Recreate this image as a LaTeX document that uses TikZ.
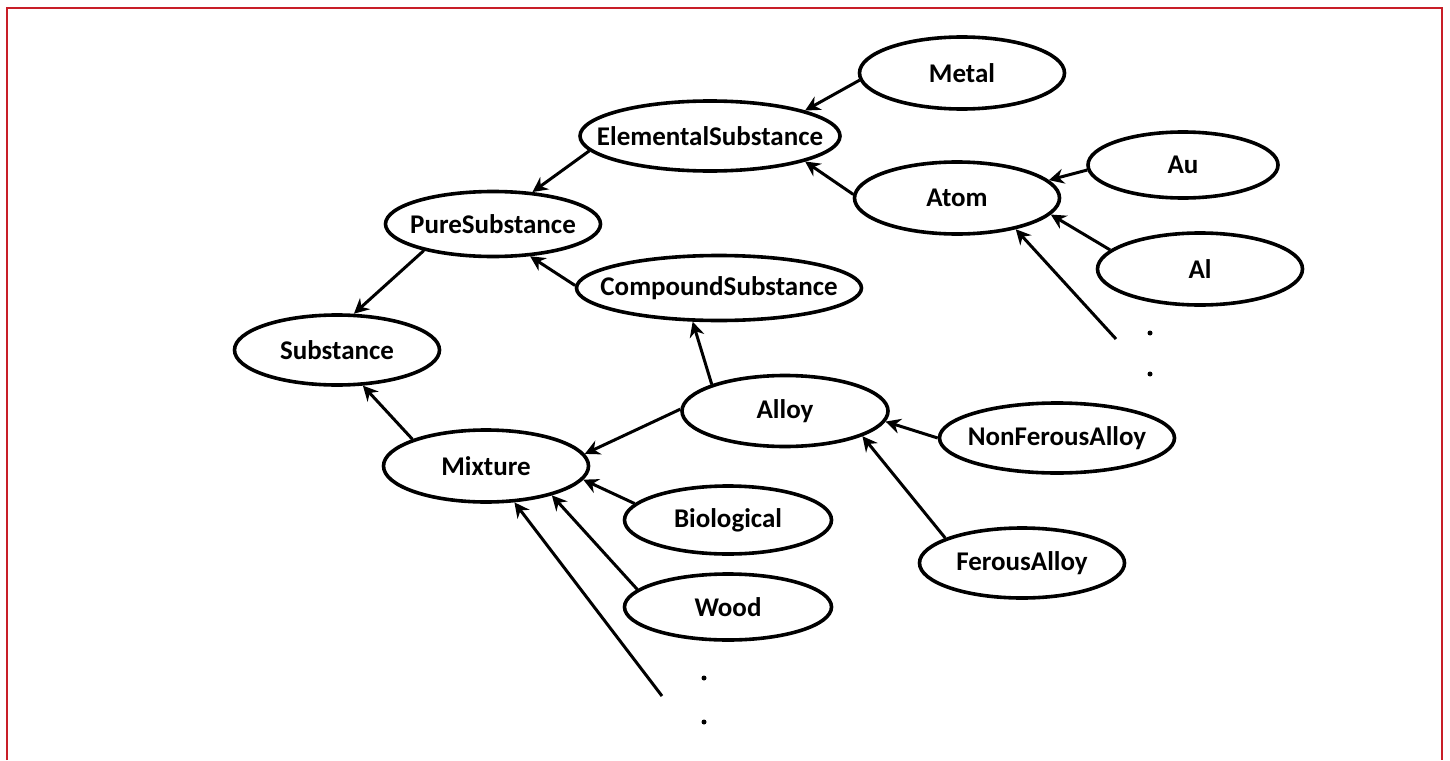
\documentclass[tikz,border=0pt]{standalone}
\usepackage{fontspec}
\setmainfont{Carlito}
\usetikzlibrary{shapes.geometric,arrows.meta}
\begin{document}
\begin{tikzpicture}[x=1pt,y=-1pt,
  ell/.style={ellipse,draw,line width=3.6pt,inner sep=0pt,
    font=\bfseries\fontsize{27}{32}\selectfont},
  arr/.style={-{Stealth[length=15pt,width=15pt,inset=5pt]},line width=3pt},
  dotmark/.style={circle,fill,inner sep=0pt,minimum size=5pt},
  frame/.style={draw={rgb,255:red,200;green,30;blue,40},line width=2.5pt}]
\useasboundingbox (0,0) rectangle (1450,760);
\fill[white] (0,0) rectangle (1450,760);
\draw[frame] (7,760) -- (7,8) -- (1442,8) -- (1442,760);

\node[ell,minimum width=205pt,minimum height=72pt] (metal) at (962,73) {\makebox[0pt]{Metal}};
\node[ell,minimum width=260pt,minimum height=70pt] (elem) at (710,136) {\makebox[0pt]{ElementalSubstance}};
\node[ell,minimum width=205pt,minimum height=72pt] (atom) at (957,198) {\makebox[0pt]{Atom}};
\node[ell,minimum width=190pt,minimum height=66pt] (au) at (1183,165) {\makebox[0pt]{Au}};
\node[ell,minimum width=205pt,minimum height=72pt] (al) at (1200,269) {\makebox[0pt]{Al}};
\node[ell,minimum width=215pt,minimum height=65pt] (pure) at (493,224) {\makebox[0pt]{PureSubstance}};
\node[ell,minimum width=285pt,minimum height=65pt] (comp) at (719,288) {\makebox[0pt]{CompoundSubstance}};
\node[ell,minimum width=205pt,minimum height=70pt] (subst) at (337,350) {\makebox[0pt]{Substance}};
\node[ell,minimum width=206pt,minimum height=71pt] (alloy) at (785,411) {\makebox[0pt]{Alloy}};
\node[ell,minimum width=235pt,minimum height=70pt] (nonfer) at (1057,438) {\makebox[0pt]{NonFerousAlloy}};
\node[ell,minimum width=205pt,minimum height=72pt] (mix) at (486,466) {\makebox[0pt]{Mixture}};
\node[ell,minimum width=207pt,minimum height=68pt] (bio) at (728,520) {\makebox[0pt]{Biological}};
\node[ell,minimum width=207pt,minimum height=66pt] (wood) at (728,607) {\makebox[0pt]{Wood}};
\node[ell,minimum width=205pt,minimum height=70pt] (fer) at (1022,563) {\makebox[0pt]{FerousAlloy}};

\coordinate (atomfree) at (1116,339);
\coordinate (mixfree) at (662,696);
\node[dotmark] (d1) at (1150,333) {};
\node[dotmark] (d2) at (1150,374) {};
\node[dotmark] (d3) at (704,678) {};
\node[dotmark] (d4) at (704,722) {};

\draw[arr] (metal.184) -- (elem.15);
\draw[arr] (atom.178) -- (elem.345);
\draw[arr] (au.183) -- (atom.11);
\draw[arr] (al.168) -- (atom.350);
\draw[arr] (atomfree) -- (atom.332);
\draw[arr] (elem.187) -- (pure.39);
\draw[arr] (comp.179) -- (pure.319);
\draw[arr] (pure.201) -- (subst.65);
\draw[arr] (mix.160) -- (subst.306);
\draw[arr] (alloy.160) -- (comp.232);
\draw[arr] (alloy.179) -- (mix.7);
\draw[arr] (nonfer.180) -- (alloy.354);
\draw[arr] (fer.162) -- (alloy.342);
\draw[arr] (bio.170) -- (mix.352);
\draw[arr] (wood.169) -- (mix.336);
\draw[arr] (mixfree) -- (mix.308);
\end{tikzpicture}
\end{document}
